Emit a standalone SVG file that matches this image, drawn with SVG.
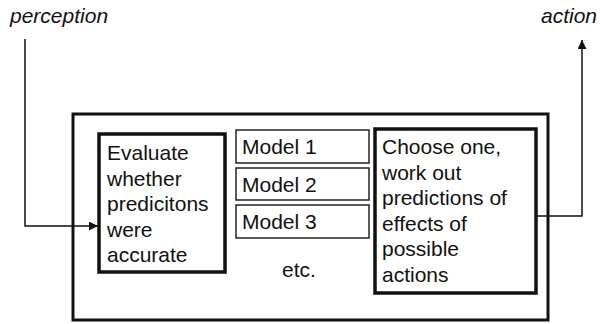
<svg xmlns="http://www.w3.org/2000/svg" width="604" height="324" viewBox="0 0 604 324">
<style>
  text { font-family: "Liberation Sans", Arial, sans-serif; font-size: 21px; fill: #111; }
  .it { font-style: italic; }
  .thick { fill: #fff; stroke: #111; stroke-width: 3.5; }
  .outer { fill: #fff; stroke: #111; stroke-width: 3; }
  .thin { fill: #fff; stroke: #222; stroke-width: 1.5; }
  .conn { fill: none; stroke: #111; stroke-width: 1.5; }
</style>
<defs>
  <marker id="arr" viewBox="0 0 10 10" refX="10" refY="5" markerWidth="9" markerHeight="9" orient="auto" markerUnits="userSpaceOnUse">
    <path d="M0,0 L10,5 L0,10 z" fill="#111"/>
  </marker>
</defs>
<g id="labels">
  <text class="it" x="10" y="23">perception</text>
  <text class="it" x="597" y="23" text-anchor="end">action</text>
</g>
<g id="outer">
  <rect class="outer" x="73" y="114" width="475" height="206"/>
</g>
<g id="connectors">
  <path class="conn" d="M25,39 V226 H98" marker-end="url(#arr)"/>
  <path class="conn" d="M536,216 H582 V40" marker-end="url(#arr)"/>
</g>
<g id="evaluate">
  <rect class="thick" x="99" y="134" width="126" height="138"/>
  <text x="107" y="160">Evaluate</text>
  <text x="107" y="185.5">whether</text>
  <text x="107" y="211">predicitons</text>
  <text x="107" y="236.5">were</text>
  <text x="107" y="262">accurate</text>
</g>
<g id="model1">
  <rect class="thin" x="236" y="130" width="133" height="33"/>
  <text x="242" y="154">Model 1</text>
</g>
<g id="model2">
  <rect class="thin" x="236" y="168" width="133" height="32"/>
  <text x="242" y="192">Model 2</text>
</g>
<g id="model3">
  <rect class="thin" x="236" y="205" width="133" height="33"/>
  <text x="242" y="229">Model 3</text>
</g>
<g id="etc">
  <text x="299" y="277" text-anchor="middle">etc.</text>
</g>
<g id="choose">
  <rect class="thick" x="375" y="129" width="161" height="164"/>
  <text x="382" y="154">Choose one,</text>
  <text x="382" y="179.5">work out</text>
  <text x="382" y="205">predictions of</text>
  <text x="382" y="230.5">effects of</text>
  <text x="382" y="256">possible</text>
  <text x="382" y="281.5">actions</text>
</g>
</svg>
